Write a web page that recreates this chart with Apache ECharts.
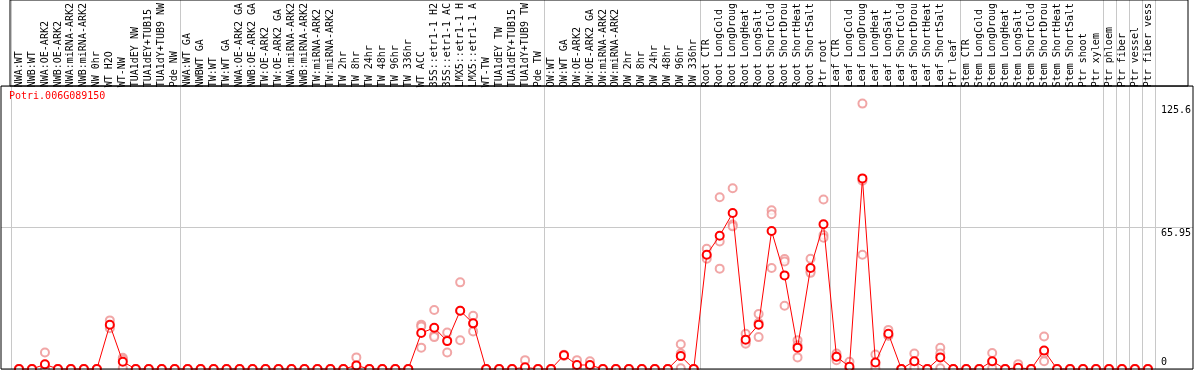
<!DOCTYPE html>
<html>
<head>
<meta charset="utf-8">
<script src="https://cdn.jsdelivr.net/npm/echarts@6/dist/echarts.min.js"></script>
<style>
html,body{margin:0;padding:0;background:#fff;}
#chart{width:1194px;height:370px;}
</style>
</head>
<body>
<div id="chart"></div>
<script>
const titleText = 'Potri.006G089150';

const categories = [
  'NWA:WT','NWB:WT','NWA:OE-ARK2','NWB:OE-ARK2','NWA:miRNA-ARK2','NWB:miRNA-ARK2','NW 0hr','WT H2O','WT-NW','TUA1dEY NW','TUA1dEY+TUB15','TUA1dY+TUB9 NW','Pde NW',
  'NWA:WT GA','NWBWT GA','TW:WT','TW:WT GA','NWA:OE-ARK2 GA','NWB:OE-ARK2 GA','TW:OE-ARK2','TW:OE-ARK2 GA','NWA:miRNA-ARK2','NWB:miRNA-ARK2','TW:miRNA-ARK2','TW:miRNA-ARK2','TW 2hr','TW 8hr','TW 24hr','TW 48hr','TW 96hr','TW 336hr','WT ACC','35S::etr1-1 H2','35S::etr1-1 AC','LMX5::etr1-1 H','LMX5::etr1-1 A','WT-TW','TUA1dEY TW','TUA1dEY+TUB15','TUA1dY+TUB9 TW','Pde TW',
  'OW:WT','OW:WT GA','OW:OE-ARK2','OW:OE-ARK2 GA','OW:miRNA-ARK2','OW:miRNA-ARK2','OW 2hr','OW 8hr','OW 24hr','OW 48hr','OW 96hr','OW 336hr',
  'Root CTR','Root LongCold','Root LongDroug','Root LongHeat','Root LongSalt','Root ShortCold','Root ShortDrou','Root ShortHeat','Root ShortSalt','Ptr root',
  'Leaf CTR','Leaf LongCold','Leaf LongDroug','Leaf LongHeat','Leaf LongSalt','Leaf ShortCold','Leaf ShortDrou','Leaf ShortHeat','Leaf ShortSalt','Ptr leaf',
  'Stem CTR','Stem LongCold','Stem LongDroug','Stem LongHeat','Stem LongSalt','Stem ShortCold','Stem ShortDrou','Stem ShortHeat','Stem ShortSalt','Ptr shoot','Ptr xylem',
  'Ptr phloem','Ptr fiber','Ptr vessel','Ptr fiber vess'
];

// indices of the first category of each group (vertical separators)
const groupStarts = [0, 13, 41, 53, 63, 73, 84, 85, 86, 87];

const means = [
  0,0,2.2,0,0,0,0,20.9,3.4,0,0,0,0,
  0,0,0,0,0,0,0,0,0,0,0,0,0,1.7,0,0,0,0,17.0,19.5,13.2,27.6,21.6,0,0,0,0.8,0,
  0,6.5,1.9,1.9,0,0,0,0,0,0,6.1,0,
  54.1,63.1,73.8,13.9,21.0,65.3,44.3,10.1,47.8,68.5,
  5.8,1.1,90.2,3.1,16.7,0,3.7,0,5.5,0,
  0,0,3.7,0,0.6,0,8.7,0,0,0,0,
  0,0,0,0
];

const rep1 = [
  0,0,7.8,0,0,0,0,23.0,5.3,0,0,0,0,
  0,0,0,0,0,0,0,0,0,0,0,0,0,5.5,0,0,0,0,21.0,27.9,17.3,41.0,25.2,0,0,0,4.2,0,
  0,6.8,4.2,3.7,0,0,0,0,0,0,11.7,0,
  56.9,81.3,85.5,16.7,26.0,75.1,52.0,13.6,52.2,80.2,
  7.3,3.4,125.6,6.9,18.5,0,7.3,0,10.0,0,
  0,0,7.6,0,2.3,0,15.4,0,0,0,0,
  0,0,0,0
];

const rep2 = [
  0,0,0,0,0,0,0,20.5,4.5,0,0,0,0,
  0,0,0,0,0,0,0,0,0,0,0,0,0,0,0,0,0,0,20.1,15.9,13.6,27.6,21.4,0,0,0,0,0,
  0,6.5,1.0,1.2,0,0,0,0,0,0,7.3,0,
  53.5,60.3,68.4,12.8,21.9,73.2,50.9,11.2,46.3,63.4,
  6.0,0,89.1,2.0,15.9,0,3.3,0,7.3,0,
  0,0,3.2,0,0,0,7.3,0,0,0,0,
  0,0,0,0
];

const rep3 = [
  0,0,0,0,0,0,0,19.3,0.5,0,0,0,0,
  0,0,0,0,0,0,0,0,0,0,0,0,0,0,0,0,0,0,10.1,15.1,7.8,13.6,17.8,0,0,0,0,0,
  0,6.2,0.5,0.8,0,0,0,0,0,0,0.3,0,
  52.2,47.5,67.5,12.0,15.1,47.8,29.9,5.5,45.5,62.1,
  4.2,0,54.1,0.3,15.7,0,0.6,0,0.3,0,
  0,0,0.3,0,0,0,3.7,0,0,0,0,
  0,0,0,0
];

const yMax = 131.9;
const yMid = 65.95;
const yTickValues = [0, 65.95, 125.6];

const replicatePoints = [];
[rep1, rep2, rep3].forEach(function (arr) {
  arr.forEach(function (v, i) { replicatePoints.push([i, v]); });
});

const MONO = 'DejaVu Sans Mono';
const chart = echarts.init(document.getElementById('chart'), null, {renderer: 'canvas'});

chart.setOption({
  animation: false,
  backgroundColor: '#ffffff',
  title: {
    text: titleText,
    left: 9, top: 91, padding: 0,
    textStyle: {color: '#ff0000', fontFamily: MONO, fontSize: 10, fontWeight: 'normal'}
  },
  grid: [
    // 0: data grid
    {left: 12.5, right: 37.5, top: 86, bottom: 1, show: false},
    // 1: plot frame
    {left: 1, right: 1, top: 86, bottom: 1, show: true, borderColor: '#000', borderWidth: 1, backgroundColor: 'transparent', z: 5},
    // 2: separators (full height)
    {left: 11, right: 39, top: 0, bottom: 1, show: false},
    // 3: label box (top edge pushed above the canvas)
    {left: 10, right: 6, top: -20, height: 106, show: true, borderColor: '#000', borderWidth: 1, backgroundColor: 'transparent', z: 5}
  ],
  xAxis: [
    {
      type: 'category', gridIndex: 0, position: 'top', data: categories,
      axisLine: {show: false}, axisTick: {show: false}, splitLine: {show: false},
      axisLabel: {interval: 0, rotate: 90, margin: 3, color: '#000', fontFamily: MONO, fontSize: 10}
    },
    {type: 'value', gridIndex: 1, show: false},
    {
      type: 'category', gridIndex: 2, data: categories,
      axisLine: {show: false}, axisTick: {show: false}, axisLabel: {show: false},
      splitLine: {
        show: true,
        interval: function (index) { return groupStarts.indexOf(index) >= 0; },
        lineStyle: {color: '#c8c8c8', width: 1}
      }
    },
    {type: 'value', gridIndex: 3, show: false}
  ],
  yAxis: [
    {
      type: 'value', gridIndex: 0, min: 0, max: yMax, position: 'right',
      axisLine: {show: false}, axisTick: {show: false}, splitLine: {show: false},
      axisLabel: {
        customValues: yTickValues,
        margin: 6.5, color: '#000', fontFamily: MONO, fontSize: 10,
        formatter: function (v) {
          if (v === 0) return '{b|0}';
          if (v === yTickValues[1]) return '{m|' + v + '}';
          return '{t|' + v + '}';
        },
        rich: {
          b: {fontFamily: MONO, fontSize: 10, color: '#000', padding: [0, 0, 14, 0]},
          m: {fontFamily: MONO, fontSize: 10, color: '#000', padding: [8, 0, 0, 0]},
          t: {fontFamily: MONO, fontSize: 10, color: '#000', padding: [13, 0, 0, 0]}
        }
      }
    },
    {
      type: 'value', gridIndex: 1, min: 0, max: yMax, interval: yMid,
      axisLine: {show: false}, axisTick: {show: false}, axisLabel: {show: false},
      splitLine: {show: true, lineStyle: {color: '#c8c8c8', width: 1}}
    },
    {type: 'value', gridIndex: 2, show: false},
    {type: 'value', gridIndex: 3, show: false}
  ],
  series: [
    {
      type: 'scatter', xAxisIndex: 0, yAxisIndex: 0,
      data: replicatePoints,
      symbol: 'emptyCircle', symbolSize: 8,
      itemStyle: {color: '#ee9090', borderColor: '#ee9090', borderWidth: 1},
      z: 2, silent: true
    },
    {
      type: 'line', xAxisIndex: 0, yAxisIndex: 0,
      data: means,
      symbol: 'emptyCircle', symbolSize: 8, showAllSymbol: true,
      lineStyle: {color: '#ff0000', width: 1},
      itemStyle: {color: '#ff0000', borderColor: '#ff0000', borderWidth: 1.6},
      z: 3, silent: true, clip: false
    }
  ]
});
</script>
</body>
</html>
